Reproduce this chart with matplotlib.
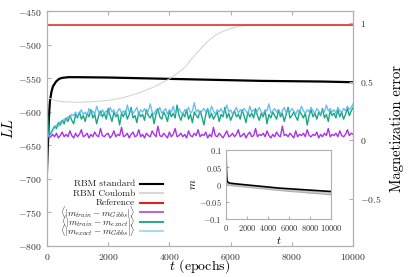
import numpy as np
import matplotlib
matplotlib.use("Agg")
import matplotlib.pyplot as plt
from matplotlib.lines import Line2D

plt.rcParams['font.family'] = 'serif'
plt.rcParams['font.serif'] = ['cmr10']
plt.rcParams['mathtext.fontset'] = 'cm'
plt.rcParams['axes.formatter.use_mathtext'] = True
plt.rcParams['axes.unicode_minus'] = True

# log-likelihood curves (left axis)
t_std = [0, 20, 40, 60, 80, 100, 150, 200, 300, 400, 500, 700, 1000, 2000,
         3000, 4000, 5000, 6000, 7000, 8000, 9000, 10000]
ll_std = [-692, -665, -640, -615, -597, -584, -570, -562, -555, -551, -549.5,
          -548.5, -548.5, -549, -550, -551, -552, -553, -554, -554.5, -555, -556]

t_coul = [0, 100, 250, 500, 1000, 1500, 2000, 2500, 3000, 3500, 4000, 4250,
          4500, 4750, 5000, 5250, 5500, 5750, 6000, 6250, 6500, 7000, 8000, 10000]
ll_coul = [-582, -580, -583, -585, -586, -585, -583, -579, -572, -563, -551, -543,
           -534, -520, -507, -495, -486, -480, -476, -473, -471.5, -471, -471, -471]

ll_ref = -471

# magnetization errors (right axis), in units of 0.01
t_err = np.linspace(0, 10000, 161)
err_train_gibbs = np.array([
    4, 2, 3, 5, 3, 6, 2, 4, 7, 3,
    5, 3, 8, 4, 2, 6, 3, 5, 9, 3,
    4, 6, 2, 5, 3, 7, 4, 3, 10, 4,
    3, 5, 6, 2, 4, 8, 3, 5, 4, 11,
    3, 4, 6, 2, 5, 7, 3, 4, 9, 3,
    5, 2, 6, 4, 3, 8, 5, 3, 12, 4,
    3, 6, 4, 2, 7, 3, 5, 10, 3, 4,
    6, 3, 5, 2, 8, 4, 3, 6, 4, 9,
    3, 5, 4, 7, 2, 5, 3, 11, 4, 3,
    6, 4, 2, 5, 8, 3, 4, 6, 3, 5,
    9, 3, 4, 6, 2, 5, 7, 3, 4, 10,
    3, 5, 4, 6, 3, 8, 4, 2, 5, 3,
    7, 4, 3, 12, 4, 5, 3, 6, 4, 2,
    8, 3, 5, 4, 6, 3, 9, 4, 3, 5,
    4, 7, 2, 5, 3, 6, 4, 10, 3, 5,
    4, 6, 3, 8, 4, 3, 5, 9, 4, 6, 5]) / 100
err_train_exact = np.array([
    34, 4, 6, 9, 12, 10, 15, 13, 17, 14,
    19, 16, 21, 17, 14, 22, 19, 24, 18, 21,
    16, 23, 20, 26, 19, 22, 14, 21, 25, 20,
    23, 18, 27, 21, 16, 24, 20, 22, 13, 23,
    20, 25, 18, 22, 28, 19, 21, 15, 24, 20,
    22, 17, 26, 21, 19, 23, 14, 22, 27, 20,
    18, 24, 21, 16, 25, 20, 23, 19, 30, 21,
    17, 23, 20, 26, 18, 22, 15, 24, 21, 19,
    25, 20, 13, 22, 27, 19, 23, 18, 21, 24,
    16, 22, 20, 28, 19, 23, 17, 21, 25, 20,
    22, 18, 26, 21, 15, 24, 20, 23, 19, 27,
    21, 17, 23, 20, 25, 14, 22, 19, 24, 21,
    18, 26, 20, 23, 16, 22, 28, 19, 21, 24,
    20, 17, 25, 22, 19, 23, 13, 21, 26, 20,
    23, 18, 24, 21, 27, 19, 22, 16, 25, 21,
    23, 19, 26, 20, 24, 18, 22, 27, 21, 25, 28]) / 100
err_exact_gibbs = np.array([
    10, 3, 5, 8, 11, 13, 12, 16, 15, 18,
    17, 20, 19, 22, 21, 24, 20, 23, 26, 22,
    24, 21, 27, 23, 25, 22, 29, 24, 21, 26,
    23, 25, 22, 28, 24, 26, 21, 25, 27, 23,
    25, 22, 30, 24, 26, 23, 25, 28, 22, 26,
    24, 27, 23, 25, 31, 24, 22, 26, 24, 28,
    23, 25, 27, 22, 26, 24, 29, 23, 25, 27,
    24, 22, 26, 25, 28, 23, 25, 32, 24, 26,
    22, 25, 27, 24, 26, 23, 29, 25, 22, 26,
    24, 27, 23, 25, 30, 24, 26, 22, 25, 28,
    23, 26, 24, 27, 25, 22, 29, 24, 26, 23,
    25, 28, 24, 22, 26, 25, 31, 23, 25, 27,
    24, 26, 22, 25, 28, 23, 26, 24, 27, 25,
    22, 26, 24, 29, 25, 23, 26, 24, 28, 25,
    23, 27, 25, 22, 26, 24, 30, 25, 27, 24,
    26, 23, 28, 25, 24, 27, 25, 29, 26, 28, 31]) / 100

# inset: magnetization
t_in = [0, 10, 30, 60, 100, 200, 400, 700, 1000, 2000, 3000, 4000, 5000,
        6000, 7000, 8000, 9000, 10000]
m_std = [0.085, 0.06, 0.035, 0.018, 0.01, 0.006, 0.004, 0.003, 0.002, -0.001,
         -0.004, -0.007, -0.01, -0.012, -0.014, -0.016, -0.018, -0.02]
m_g1 = [0.06, 0.04, 0.02, 0.008, 0.003, 0.0, -0.002, -0.003, -0.004, -0.007,
        -0.01, -0.013, -0.016, -0.019, -0.021, -0.024, -0.026, -0.029]
m_g2 = [0.07, 0.05, 0.03, 0.012, 0.006, 0.003, 0.001, 0.0, -0.001, -0.004,
        -0.007, -0.01, -0.013, -0.016, -0.018, -0.02, -0.023, -0.025]

legend_labels = ['RBM standard', 'RBM Coulomb', 'Reference',
                 r'$\langle|m_{train}-m_{Gibbs}|\rangle$',
                 r'$\langle|m_{train}-m_{exact}|\rangle$',
                 r'$\langle|m_{exact}-m_{Gibbs}|\rangle$']
legend_colors = ['black', '#d8d8d8', '#e0201b', '#b866e8', '#2aae88', '#a8daf5']

spine_c = '#b0b0b0'
label_c = '#333333'

fig = plt.figure(figsize=(4.15, 2.77), dpi=100)
ax = fig.add_axes([0.113, 0.112, 0.738, 0.848])
ax2 = ax.twinx()

ax.plot(t_std, ll_std, color='black', lw=1.6)
ax.plot(t_coul, ll_coul, color='#d0d0d0', lw=0.7)
ax.axhline(ll_ref, color='#e0201b', lw=1.1)

ax2.plot(t_err, err_train_gibbs, color='#9a10e0', lw=1.0, alpha=0.85)
ax2.plot(t_err, err_train_exact, color='#009e73', lw=1.0, alpha=0.9)
ax2.plot(t_err, err_exact_gibbs, color='#56b4e9', lw=1.0, alpha=0.85)

ax.set_xlim(0, 10000)
ax.set_ylim(-800, -450)
ax.set_xticks(range(0, 10001, 2000))
ax.set_yticks(range(-800, -449, 50))
ax2.set_ylim(-0.9, 1.1)
ax2.set_yticks([-0.5, 0, 0.5, 1])
ax2.set_yticklabels(['$-0.5$', '$0$', '$0.5$', '$1$'])

for a in (ax, ax2):
    for s in a.spines.values():
        s.set_color(spine_c)
        s.set_linewidth(0.8)
ax.tick_params(axis='both', direction='in', top=True, right=False, labelsize=7,
               color=spine_c, labelcolor=label_c, length=3, pad=4)
ax2.tick_params(axis='y', direction='in', labelsize=7, color=spine_c,
                labelcolor=label_c, length=3, pad=5)

ax.set_xlabel(r'$t$ (epochs)', fontsize=10, labelpad=-3)
ax.set_ylabel(r'$LL$', fontsize=10.5, labelpad=1)
ax2.set_ylabel('Magnetization error', fontsize=10.5, labelpad=6)

# legend drawn as rows of right-aligned text with a short line after each
row_y = 0.264
for lab, col in zip(legend_labels, legend_colors):
    ax2.text(0.288, row_y, lab, transform=ax2.transAxes, ha='right',
             va='center', fontsize=6.8, color='#222222', zorder=6)
    ax2.add_line(Line2D([0.305, 0.379], [row_y, row_y], transform=ax2.transAxes,
                        color=col, lw=1.5, zorder=6))
    row_y -= 0.0404

# inset
axi = fig.add_axes([0.545, 0.209, 0.253, 0.249])
axi.set_zorder(5)
axi.plot(t_in, m_g1, color='#b0b0b0', lw=1.2)
axi.plot(t_in, m_g2, color='#c8c8c8', lw=1.2)
axi.plot(t_in, m_std, color='black', lw=1.2)
axi.set_xlim(0, 10000)
axi.set_ylim(-0.1, 0.1)
axi.set_xticks(range(0, 10001, 2000))
axi.set_yticks([-0.1, -0.05, 0, 0.05, 0.1])
axi.set_yticklabels(['$-0.1$', '$-0.05$', '$0$', '$0.05$', '$0.1$'])
for s in axi.spines.values():
    s.set_color(spine_c)
    s.set_linewidth(0.8)
axi.tick_params(direction='in', labelsize=6, color=spine_c, labelcolor=label_c,
                length=2, pad=3)
axi.set_xlabel(r'$t$', fontsize=8, labelpad=1)
axi.set_ylabel(r'$m$', fontsize=8, labelpad=1)

fig.savefig('out.png', dpi=100)
